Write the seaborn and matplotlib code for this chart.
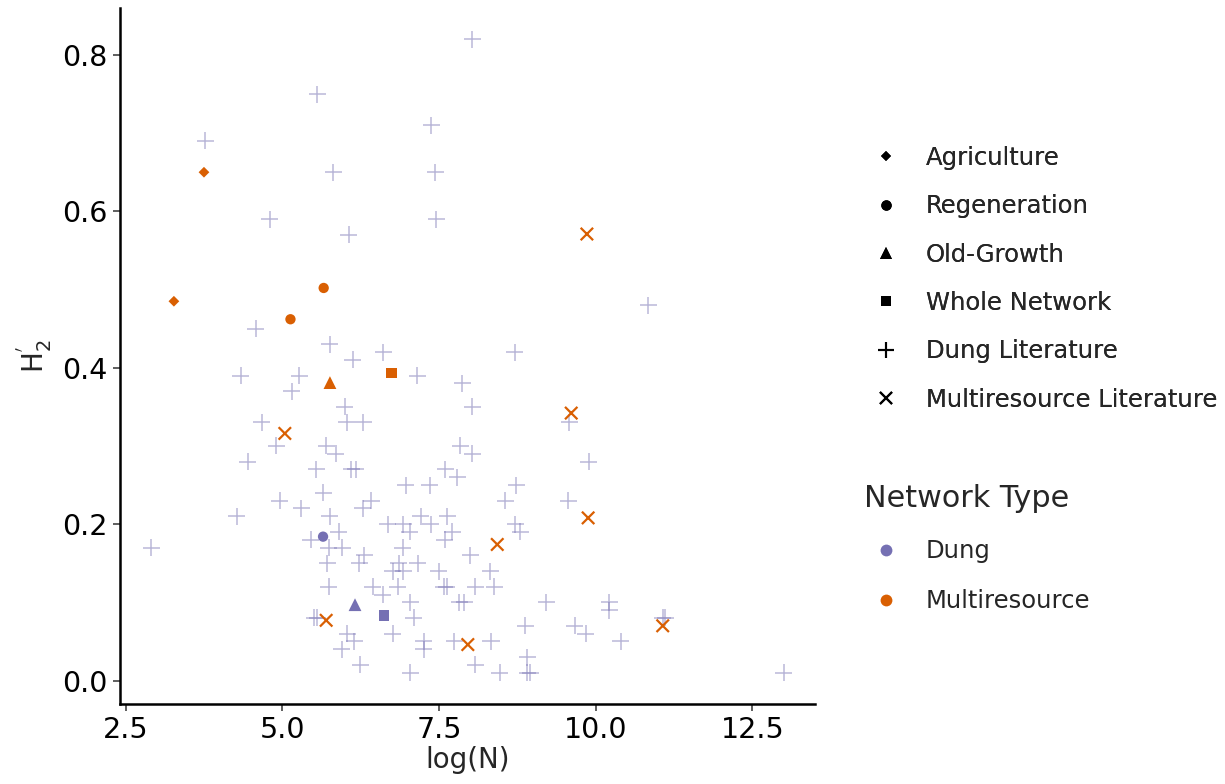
import numpy as np
import pandas as pd
import matplotlib
matplotlib.use("Agg")
import matplotlib.pyplot as plt
from matplotlib.lines import Line2D
import seaborn as sns

# ---------------- data ----------------
dung_lit_x = [8.03, 5.56, 7.38, 3.77, 5.81, 7.44, 4.80, 7.46, 6.06, 10.84,
              4.58, 5.76, 6.61, 8.71, 6.12, 4.34, 5.27, 7.15, 7.87, 5.15,
              8.03, 6.00, 9.58, 4.67, 6.03, 6.29, 4.90, 5.70, 7.84, 5.85,
              8.03, 4.45, 9.89, 5.54, 6.10, 6.17, 7.60, 7.79, 6.97, 7.35,
              8.73, 5.65, 4.96, 6.42, 8.56, 9.56, 5.30, 6.28, 4.27, 5.76,
              7.21, 7.63, 6.68, 6.93, 7.37, 8.72, 5.90, 7.03, 7.71, 8.80,
              5.45, 7.59, 2.91, 5.74, 5.96, 6.92, 6.31, 8.00, 5.72, 6.23,
              6.86, 7.16, 6.76, 6.93, 7.50, 8.32, 5.74, 6.44, 6.84, 7.58,
              7.62, 8.08, 8.38, 6.60, 7.04, 7.82, 7.90, 9.21, 10.22, 10.22,
              5.51, 5.56, 7.10, 11.07, 11.11, 8.88, 9.67, 6.04, 6.76, 9.84,
              6.15, 7.26, 7.74, 8.33, 10.40, 5.95, 7.26, 8.91, 6.24, 8.08,
              7.04, 8.47, 8.91, 8.96, 13.00]
dung_lit_y = [0.82, 0.75, 0.71, 0.69, 0.65, 0.65, 0.59, 0.59, 0.57, 0.48,
              0.45, 0.43, 0.42, 0.42, 0.41, 0.39, 0.39, 0.39, 0.38, 0.37,
              0.35, 0.35, 0.33, 0.33, 0.33, 0.33, 0.30, 0.30, 0.30, 0.29,
              0.29, 0.28, 0.28, 0.27, 0.27, 0.27, 0.27, 0.26, 0.25, 0.25,
              0.25, 0.24, 0.23, 0.23, 0.23, 0.23, 0.22, 0.22, 0.21, 0.21,
              0.21, 0.21, 0.20, 0.20, 0.20, 0.20, 0.19, 0.19, 0.19, 0.19,
              0.18, 0.18, 0.17, 0.17, 0.17, 0.17, 0.16, 0.16, 0.15, 0.15,
              0.15, 0.15, 0.14, 0.14, 0.14, 0.14, 0.12, 0.12, 0.12, 0.12,
              0.12, 0.12, 0.12, 0.11, 0.10, 0.10, 0.10, 0.10, 0.10, 0.09,
              0.08, 0.08, 0.08, 0.08, 0.08, 0.07, 0.07, 0.06, 0.06, 0.06,
              0.05, 0.05, 0.05, 0.05, 0.05, 0.04, 0.04, 0.03, 0.02, 0.02,
              0.01, 0.01, 0.01, 0.01, 0.01]

multi_lit_x = [9.86, 9.61, 5.04, 9.88, 8.43, 5.70, 7.96, 11.07]
multi_lit_y = [0.571, 0.342, 0.316, 0.208, 0.174, 0.077, 0.046, 0.070]

agri_x = [3.75, 3.27]
agri_y = [0.650, 0.485]
agri_type = ["Multiresource", "Multiresource"]

regen_x = [5.66, 5.13, 5.65]
regen_y = [0.502, 0.462, 0.184]
regen_type = ["Multiresource", "Multiresource", "Dung"]

old_x = [5.76, 6.16]
old_y = [0.381, 0.097]
old_type = ["Multiresource", "Dung"]

whole_x = [6.74, 6.62]
whole_y = [0.393, 0.083]
whole_type = ["Multiresource", "Dung"]

site_labels = ["Agriculture", "Regeneration", "Old-Growth", "Whole Network",
               "Dung Literature", "Multiresource Literature"]
type_labels = ["Dung", "Multiresource"]

# ---------------- assemble ----------------
frames = [
    pd.DataFrame({"logN": agri_x, "H2": agri_y, "type": agri_type, "site": "Agriculture"}),
    pd.DataFrame({"logN": regen_x, "H2": regen_y, "type": regen_type, "site": "Regeneration"}),
    pd.DataFrame({"logN": old_x, "H2": old_y, "type": old_type, "site": "Old-Growth"}),
    pd.DataFrame({"logN": whole_x, "H2": whole_y, "type": whole_type, "site": "Whole Network"}),
    pd.DataFrame({"logN": dung_lit_x, "H2": dung_lit_y, "type": "Dung", "site": "Dung Literature"}),
    pd.DataFrame({"logN": multi_lit_x, "H2": multi_lit_y, "type": "Multiresource",
                  "site": "Multiresource Literature"}),
]
df = pd.concat(frames, ignore_index=True)

palette = {"Dung": "#7570B3", "Multiresource": "#D95F02"}
markers = {"Agriculture": "D", "Regeneration": "o", "Old-Growth": "^",
           "Whole Network": "s", "Dung Literature": "+", "Multiresource Literature": "x"}
sizes = {"Agriculture": 30, "Regeneration": 55, "Old-Growth": 85,
         "Whole Network": 55, "Dung Literature": 150, "Multiresource Literature": 80}
alphas = {"Dung Literature": 0.5}
lws = {"Dung Literature": 1.1, "Multiresource Literature": 1.6}

sns.set_style("ticks")
plt.rcParams["font.family"] = ["DejaVu Sans"]
plt.rcParams["mathtext.fontset"] = "dejavusans"

fig = plt.figure(figsize=(12.25, 7.84), dpi=100)
ax = fig.add_axes([120 / 1225, 80 / 784, 695 / 1225, 696 / 784])

order = ["Dung Literature", "Multiresource Literature", "Agriculture",
         "Regeneration", "Old-Growth", "Whole Network"]
for site in order:
    sub = df[df["site"] == site]
    kw = dict(linewidth=lws.get(site, 0))
    sns.scatterplot(data=sub, x="logN", y="H2", hue="type", palette=palette,
                    marker=markers[site], s=sizes[site], alpha=alphas.get(site, 1.0),
                    legend=False, ax=ax, **kw)

ax.set_xlim(2.41, 13.5)
ax.set_ylim(-0.03, 0.86)
ax.set_xticks([2.5, 5.0, 7.5, 10.0, 12.5])
ax.set_xticklabels(["2.5", "5.0", "7.5", "10.0", "12.5"])
ax.set_yticks([0.0, 0.2, 0.4, 0.6, 0.8])
ax.set_yticklabels(["0.0", "0.2", "0.4", "0.6", "0.8"])
ax.tick_params(axis="both", labelsize=20.5, length=5, width=1.1, color="#333333",
               labelcolor="black", pad=4)
for sp in ["top", "right"]:
    ax.spines[sp].set_visible(False)
for sp in ["left", "bottom"]:
    ax.spines[sp].set_linewidth(1.8)
    ax.spines[sp].set_color("black")

ax.set_xlabel("log(N)", fontsize=20, labelpad=1)
ax.set_ylabel(r"$\mathrm{H}_{2}^{'}$", fontsize=20, labelpad=6)

# ---------------- legends ----------------
fs_leg = 17.5
shape_handles = [Line2D([], [], linestyle="none", marker=markers[s], color="black",
                        markersize={"Agriculture": 5.5, "Regeneration": 7.5, "Old-Growth": 8.5,
                                    "Whole Network": 7, "Dung Literature": 11,
                                    "Multiresource Literature": 8}[s],
                        markeredgewidth={"Dung Literature": 1.5,
                                         "Multiresource Literature": 1.5}.get(s, 0))
                 for s in site_labels]
leg1 = fig.legend(shape_handles, site_labels, loc="upper left",
                  bbox_to_anchor=(864 / 1225, 1 - 146 / 784), frameon=False,
                  fontsize=fs_leg, handlelength=1.8, handletextpad=0.75,
                  labelspacing=1.0, borderpad=0, borderaxespad=0)
fig.add_artist(leg1)

type_handles = [Line2D([], [], linestyle="none", marker="o", color=palette[t],
                       markersize=8.5, markeredgewidth=0) for t in type_labels]
leg2 = fig.legend(type_handles, type_labels, loc="upper left",
                  bbox_to_anchor=(864 / 1225, 1 - 484 / 784), frameon=False,
                  fontsize=fs_leg, title="Network Type", title_fontsize=21.8,
                  handlelength=1.8, handletextpad=0.75, labelspacing=1.08,
                  borderpad=0, borderaxespad=0, alignment="left")

fig.savefig("out.png", dpi=100)
